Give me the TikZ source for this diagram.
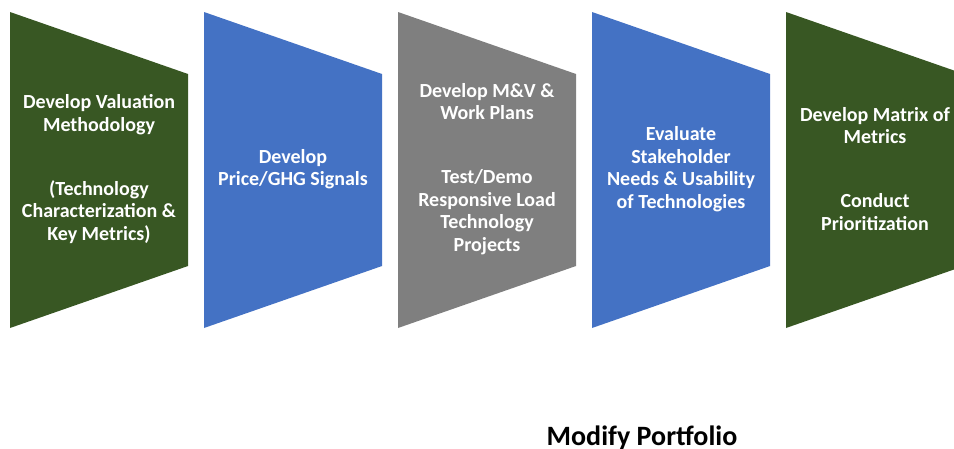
\documentclass[tikz,border=0pt]{standalone}
\usepackage{fontspec}
\setmainfont{Carlito}
\definecolor{stagegreen}{HTML}{385723}
\definecolor{stageblue}{HTML}{4472C4}
\definecolor{stagegray}{HTML}{7F7F7F}
\begin{document}
\begin{tikzpicture}[x=1pt,y=-1pt,
    stagetext/.style={text=white, align=center, inner sep=0pt,
      font=\fontsize{20}{22.5}\selectfont\bfseries}]
        \useasboundingbox (0,0) rectangle (954,448);
        \clip (0,0) rectangle (954,448);
        % stage shapes
        \fill [stagegreen] (10,12) -- (188,74) -- (188,266) -- (10,328) -- cycle;
        \fill [stageblue] (204,12) -- (382,74) -- (382,266) -- (204,328) -- cycle;
        \fill [stagegray] (398,12) -- (576,74) -- (576,266) -- (398,328) -- cycle;
        \fill [stageblue] (592,12) -- (770,74) -- (770,266) -- (592,328) -- cycle;
        \fill [stagegreen] (786,12) -- (964,74) -- (964,266) -- (786,328) -- cycle;
        % stage texts
        \node [stagetext] (valuation) at (99,169) {Develop Valuation\\Methodology\\[41.5pt](Technology\\Characterization \&\\Key Metrics)};
        \node [stagetext] (signals) at (293,169) {Develop\\Price/GHG Signals};
        \node [stagetext] (workplans) at (487,169) {Develop M\&V \&\\Work Plans\\[41.5pt]Test/Demo\\Responsive Load\\Technology\\Projects};
        \node [stagetext] (stakeholder) at (681,169) {Evaluate\\Stakeholder\\Needs \& Usability\\of Technologies};
        \node [stagetext] (matrix) at (875,169) {Develop Matrix of\\Metrics\\[41.5pt]Conduct\\Prioritization};
        \node [anchor=base, inner sep=0pt, font=\fontsize{28}{30}\selectfont\bfseries] (portfolio) at (642,445) {Modify Portfolio};
      \end{tikzpicture}
\end{document}
